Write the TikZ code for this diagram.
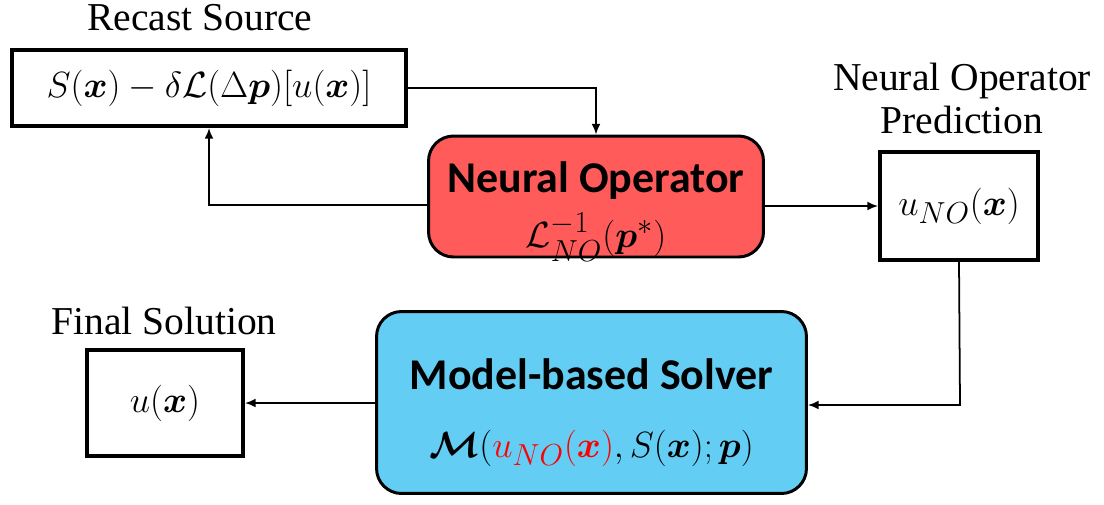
\documentclass[tikz,border=0pt]{standalone}
\usepackage{amsmath,bm}
\usepackage[no-math]{fontspec}
\setmainfont{Liberation Serif}
\newfontfamily\boxfont{Carlito}
\usetikzlibrary{arrows.meta}
\definecolor{nored}{HTML}{FF5B5B}
\definecolor{soblue}{HTML}{63CDF3}
\tikzset{
  plainbox/.style={draw=black, line width=2.3pt, fill=white, inner sep=0pt, align=center},
  roundbox/.style={draw=black, line width=1.7pt, rounded corners=0.5cm, inner sep=0pt, align=center},
  conn/.style={line width=1pt, -{Latex[length=6pt,width=5pt]}},
  lab/.style={font=\fontsize{22.5}{24.5}\selectfont, align=center, inner sep=0pt},
  mtext/.style={font=\fontsize{22.7}{27}\selectfont, inner sep=0pt},
  btitle/.style={font=\boxfont\bfseries\fontsize{25}{28}\selectfont, inner sep=0pt}
}
\begin{document}
\begin{tikzpicture}[x=0.02cm, y=-0.02cm]
\useasboundingbox (0,0) rectangle (1104,504);
% boxes
\node[plainbox, minimum width=7.88cm, minimum height=1.52cm] (rs) at (209,88) {};
\node[mtext] (rsm) at (rs.center) {$S(\bm{x})-\delta\mathcal{L}(\Delta\bm{p})[u(\bm{x})]$};
\node[roundbox, fill=nored, minimum width=6.7cm, minimum height=2.42cm] (no) at (596,196.5) {};
\node[btitle] (not) at (596,181) {Neural Operator};
\node[mtext] (nom) at (596,237) {$\mathcal{L}_{NO}^{-1}(\bm{p}^{*})$};
\node[plainbox, minimum width=3.16cm, minimum height=2.16cm] (uno) at (959,206) {};
\node[mtext] (unom) at (uno.center) {$u_{NO}(\bm{x})$};
\node[roundbox, fill=soblue, minimum width=8.6cm, minimum height=3.64cm] (so) at (591.5,402.5) {};
\node[btitle] (sot) at (591.5,374) {Model-based Solver};
\node[mtext] (som) at (591.5,448) {$\bm{\mathcal{M}}(\textcolor{red}{u_{NO}(\bm{x})},S(\bm{x});\bm{p})$};
\node[plainbox, minimum width=3.12cm, minimum height=2.12cm] (fs) at (165,403) {};
\node[mtext] (fsm) at (fs.center) {$u(\bm{x})$};
% labels
\node[lab] (l1) at (200,18) {Recast Source};
\node[lab] (l2) at (962,98) {Neural Operator\\Prediction};
\node[lab] (l3) at (164,321) {Final Solution};
% connectors
\coordinate (c1) at (960,405);
\draw[conn] (rs.east) -| (no.north);
\draw[conn] ([yshift=-0.17cm]no.west) -| (rs.south);
\draw[conn] (no.east |- uno.west) -- (uno.west);
\draw[conn] (uno.south) -- (c1) -- (so.east |- c1);
\draw[conn] (so.west |- fs.east) -- (fs.east);
\end{tikzpicture}
\end{document}
